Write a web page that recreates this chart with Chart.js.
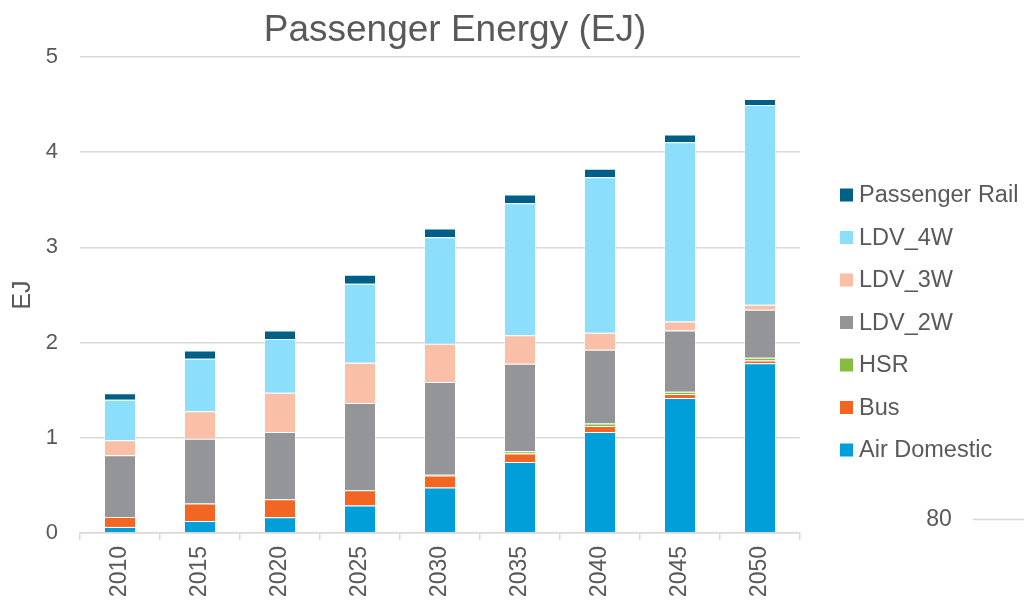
<!DOCTYPE html>
<html>
<head>
<meta charset="utf-8">
<title>Passenger Energy (EJ)</title>
<script src="https://cdn.jsdelivr.net/npm/chart.js@4"></script>
<style>
  html, body { margin: 0; padding: 0; background: #ffffff; }
  #wrap { width: 1024px; height: 600px; }
</style>
</head>
<body>
<div id="wrap"><canvas id="chart" width="1024" height="600"></canvas></div>
<script>
// Passenger transport energy by mode, in EJ
const years = ['2010', '2015', '2020', '2025', '2030', '2035', '2040', '2045', '2050'];
const airDomestic   = [0.064, 0.127, 0.166, 0.289, 0.477, 0.746, 1.061, 1.418, 1.782];
const bus           = [0.105, 0.183, 0.189, 0.160, 0.126, 0.088, 0.063, 0.042, 0.031];
const hsr           = [0.000, 0.000, 0.000, 0.000, 0.010, 0.024, 0.025, 0.025, 0.029];
const ldv2w         = [0.647, 0.680, 0.706, 0.916, 0.973, 0.920, 0.776, 0.643, 0.503];
const ldv3w         = [0.158, 0.290, 0.413, 0.424, 0.402, 0.298, 0.179, 0.094, 0.053];
const ldv4w         = [0.426, 0.550, 0.563, 0.829, 1.119, 1.388, 1.633, 1.882, 2.098];
const passengerRail = [0.067, 0.088, 0.091, 0.095, 0.091, 0.091, 0.088, 0.081, 0.063];
const yTicks = [0, 1, 2, 3, 4, 5];

const TEXT = '#595959';
const GRID = '#d9d9d9';
const FONT = 'Liberation Sans, Arial, sans-serif';

const series = [
  { label: 'Air Domestic',   data: airDomestic,   color: '#009fda' },
  { label: 'Bus',            data: bus,           color: '#f26522' },
  { label: 'HSR',            data: hsr,           color: '#86bc40' },
  { label: 'LDV_2W',         data: ldv2w,         color: '#939598' },
  { label: 'LDV_3W',         data: ldv3w,         color: '#f9bfa7' },
  { label: 'LDV_4W',         data: ldv4w,         color: '#8cdefd' },
  { label: 'Passenger Rail', data: passengerRail, color: '#005f87' }
];

// Title, legend list (top = last series) and the small axis fragment at lower right
const decorations = {
  id: 'decorations',
  afterDraw(chart) {
    const ctx = chart.ctx;
    ctx.save();
    ctx.fillStyle = TEXT;
    ctx.textBaseline = 'middle';

    ctx.font = '37px ' + FONT;
    ctx.textAlign = 'center';
    ctx.fillText('Passenger Energy (EJ)', 455, 31);

    ctx.font = '23.5px ' + FONT;
    ctx.textAlign = 'left';
    const ds = chart.data.datasets;
    for (let i = 0; i < ds.length; i++) {
      const d = ds[ds.length - 1 - i];
      const cy = 195 + i * 42.5;
      ctx.fillStyle = d.backgroundColor;
      ctx.fillRect(840, cy - 6.5, 13, 13);
      ctx.fillStyle = TEXT;
      ctx.fillText(d.label, 859, cy + 1);
    }

    ctx.font = '23px ' + FONT;
    ctx.textAlign = 'center';
    ctx.fillText('80', 939, 520);
    ctx.strokeStyle = GRID;
    ctx.lineWidth = 1.5;
    ctx.beginPath();
    ctx.moveTo(973, 519.5);
    ctx.lineTo(1024, 519.5);
    ctx.stroke();
    ctx.restore();
  }
};

new Chart(document.getElementById('chart'), {
  type: 'bar',
  data: {
    labels: years,
    datasets: series.map(s => ({
      label: s.label,
      data: s.data,
      backgroundColor: s.color,
      borderColor: 'rgba(255,255,255,0.3)',
      borderWidth: 1,
      categoryPercentage: 1.0,
      barPercentage: 0.4
    }))
  },
  options: {
    responsive: false,
    devicePixelRatio: 1,
    animation: false,
    layout: { padding: { top: 57, right: 224, bottom: 0, left: 0 } },
    plugins: {
      legend: { display: false },
      title: { display: false },
      tooltip: { enabled: false }
    },
    scales: {
      x: {
        stacked: true,
        offset: true,
        grid: {
          offset: true,
          drawOnChartArea: false,
          drawTicks: true,
          tickLength: 7,
          color: GRID,
          lineWidth: 1.5
        },
        border: { display: true, color: GRID, width: 1.5 },
        ticks: {
          color: TEXT,
          font: { family: FONT, size: 23 },
          minRotation: 90,
          maxRotation: 90,
          autoSkip: false,
          padding: 6
        },
        afterFit(scale) { scale.height = 67; }
      },
      y: {
        stacked: true,
        min: 0,
        max: 5,
        afterBuildTicks(scale) { scale.ticks = yTicks.map(v => ({ value: v })); },
        grid: { color: GRID, lineWidth: 1.5, drawTicks: false },
        border: { display: false },
        ticks: {
          color: TEXT,
          font: { family: FONT, size: 22 },
          padding: 22
        },
        title: {
          display: true,
          text: 'EJ',
          color: TEXT,
          font: { family: FONT, size: 25 },
          padding: { top: 8, bottom: 0 }
        },
        afterFit(scale) { scale.width = 80; }
      }
    }
  },
  plugins: [decorations]
});
</script>
</body>
</html>
